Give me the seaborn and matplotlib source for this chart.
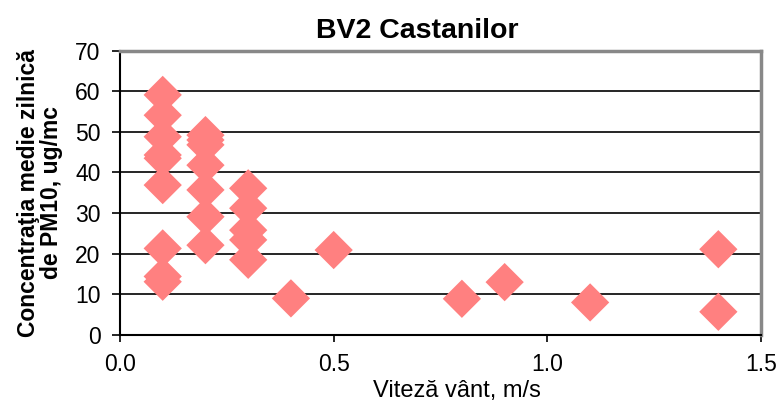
import matplotlib
matplotlib.use("Agg")
import matplotlib.pyplot as plt
import seaborn as sns
import pandas as pd

wind_speed = [0.1, 0.1, 0.1, 0.1, 0.1, 0.1, 0.1, 0.1, 0.1,
              0.2, 0.2, 0.2, 0.2, 0.2, 0.2, 0.2,
              0.3, 0.3, 0.3, 0.3, 0.3,
              0.4, 0.5, 0.8, 0.9, 1.1, 1.4, 1.4]
pm10 = [59.1, 54.1, 48.8, 44.3, 43.5, 36.9, 21.3, 14.4, 13.1,
        49.2, 48.0, 46.8, 41.8, 35.7, 29.1, 22.1,
        36.1, 31.2, 25.8, 23.4, 18.5,
        9.0, 20.9, 8.9, 13.0, 8.0, 21.1, 5.7]

x_ticks = [0.0, 0.5, 1.0, 1.5]
x_tick_labels = ["0.0", "0.5", "1.0", "1.5"]
y_ticks = [0, 10, 20, 30, 40, 50, 60, 70]
y_tick_labels = ["0", "10", "20", "30", "40", "50", "60", "70"]

title = "BV2 Castanilor"
x_label = "Viteză vânt, m/s"
y_label = "Concentraţia medie zilnică\nde PM10, ug/mc"

df = pd.DataFrame({"wind": wind_speed, "pm10": pm10})

sns.set_theme(style="white")
plt.rcParams['font.family'] = ['Liberation Sans', 'DejaVu Sans']
plt.rcParams['text.color'] = 'black'
plt.rcParams['axes.labelcolor'] = 'black'
plt.rcParams['xtick.color'] = 'black'
plt.rcParams['ytick.color'] = 'black'

fig = plt.figure(figsize=(7.79, 4.05), dpi=100)
ax = fig.add_axes([0.154, 0.173, 0.823, 0.702])

ax.set_axisbelow(True)
for yv in y_ticks[1:-1]:
    ax.axhline(yv, color="black", linewidth=1.2, zorder=0)

sns.scatterplot(data=df, x="wind", y="pm10", marker="D", s=380,
                color="#FF8080", edgecolor="none", linewidth=0, ax=ax, zorder=3)

ax.set_xlim(0, 1.5)
ax.set_ylim(0, 70)

ax.spines["left"].set_color("black")
ax.spines["left"].set_linewidth(1.5)
ax.spines["bottom"].set_color("black")
ax.spines["bottom"].set_linewidth(1.5)
ax.spines["top"].set_color("#888888")
ax.spines["top"].set_linewidth(2.5)
ax.spines["right"].set_color("#888888")
ax.spines["right"].set_linewidth(2.5)

ax.tick_params(axis="both", which="major", direction="out",
               width=1.2, color="black", labelcolor="black",
               left=True, bottom=True)
ax.tick_params(axis="y", length=6, pad=8)
ax.tick_params(axis="x", length=5, pad=8)

ax.set_xticks(x_ticks, labels=x_tick_labels, fontsize=16.5, color="black")
ax.set_yticks(y_ticks, labels=y_tick_labels, fontsize=16.5, color="black")

fig.text(0.536, 0.906, title, fontsize=20.5, fontweight="bold",
         ha="center", va="baseline", color="black")
ax.set_xlabel(x_label, fontsize=17, color="black")
ax.xaxis.set_label_coords(0.525, -0.16)
ax.set_ylabel(y_label, fontsize=16.5, fontweight="bold", labelpad=9,
              linespacing=1.0, color="black")

fig.savefig("out.png", dpi=100, facecolor="white")
